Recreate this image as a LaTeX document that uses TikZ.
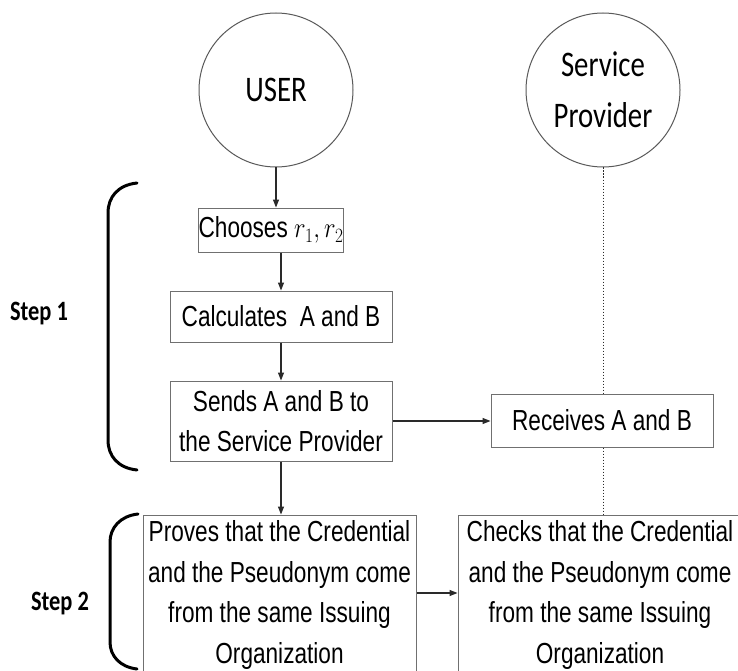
\RequirePackage{fix-cm}
\documentclass[tikz,border=0pt]{standalone}
\usepackage{fontspec}
\setmainfont{Liberation Sans}
\newfontfamily\boxfont[FakeStretch=0.78]{Liberation Sans}
\newfontfamily\roundfont[FakeStretch=0.8]{Carlito}
\usetikzlibrary{arrows.meta}
\definecolor{boxgray}{HTML}{707070}
\definecolor{circgray}{HTML}{5A5A5A}
\definecolor{arrowgray}{HTML}{2A2A2A}
\tikzset{
  box/.style={draw=boxgray, line width=1pt, fill=white, inner sep=0pt,
    align=center, font=\boxfont\fontsize{29}{40.5}\selectfont},
  actor/.style={circle, draw=circgray, line width=1pt, fill=white,
    minimum size=154pt, inner sep=0pt, align=center,
    font=\roundfont\fontsize{36}{51}\selectfont},
  flow/.style={draw=arrowgray, line width=1.2pt,
    -{Triangle[length=8pt,width=6pt]}},
  lifeline/.style={draw=arrowgray, line width=0.9pt,
    dash pattern=on 1.5pt off 1.5pt},
  brace/.style={line width=3pt, line cap=round},
  steplabel/.style={font=\roundfont\bfseries\fontsize{28}{34}\selectfont,
    inner sep=0pt}
}
\begin{document}
\begin{tikzpicture}[x=1pt,y=-1pt]
\useasboundingbox[fill=white] (0,0) rectangle (738,671);

% participants
\node[actor] (user) at (276,90) {USER};
\node[actor] (sp) at (603,90) {Service\\Provider};

% user side
\node[box, minimum width=144pt, minimum height=44pt] (choose) at (271,230)
  {Chooses \scalebox{0.85}[1]{$r_1,r_2$}};
\node[box, minimum width=222pt, minimum height=51pt] (calc) at (281,316.5)
  {Calculates\ \ A and B};
\node[box, minimum width=222pt, minimum height=80pt] (sends) at (281,421)
  {Sends A and B to\\the Service Provider};
\node[box, minimum width=273pt, minimum height=160pt] (proves) at (279.5,595)
  {Proves that the Credential\\and the Pseudonym come\\from the same Issuing\\Organization};

% service provider side
\node[box, minimum width=222pt, minimum height=53pt] (recv) at (602,420.5)
  {Receives A and B};
\node[box, minimum width=284pt, minimum height=160pt] (checks) at (600,595)
  {Checks that the Credential\\and the Pseudonym come\\from the same Issuing\\Organization};

% lifeline of the service provider
\draw[lifeline] (sp.south) -- (sp.south |- recv.north);
\draw[lifeline] (sp.south |- recv.south) -- (sp.south |- checks.north);

% message flow
\draw[flow] (user.south) -- (user.south |- choose.north);
\draw[flow] (calc.north |- choose.south) -- (calc.north);
\draw[flow] (calc.south) -- (sends.north);
\draw[flow] (sends.east) -- (sends.east -| recv.west);
\draw[flow] (sends.south) -- (sends.south |- proves.north);
\draw[flow] ([yshift=2pt]proves.east) -- ([yshift=2pt]checks.west);

% step brackets
\draw[brace] (137,183) .. controls (118,185) and (108,197) .. (108,213)
  -- (108,440) .. controls (108,456) and (118,468) .. (137,470);
\draw[brace] (138,514) .. controls (120,516) and (110,528) .. (110,542)
  -- (110,642) .. controls (110,656) and (120,667) .. (137,669);

\node[steplabel, anchor=base] (s1) at (39,320) {Step 1};
\node[steplabel, anchor=base] (s2) at (60,610) {Step 2};
\end{tikzpicture}
\end{document}
